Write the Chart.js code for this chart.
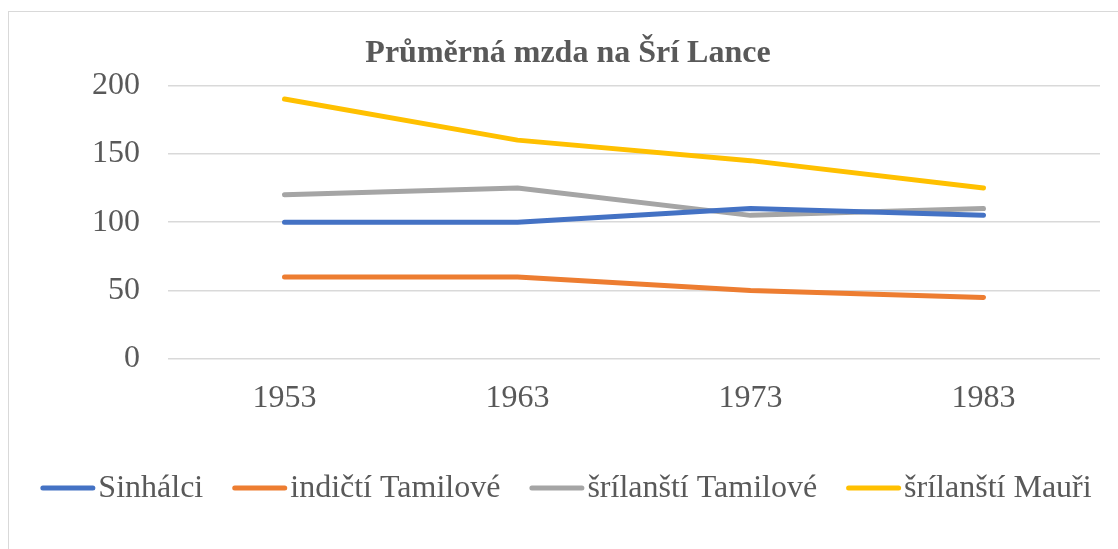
<!DOCTYPE html>
<html>
<head>
<meta charset="utf-8">
<script src="https://cdn.jsdelivr.net/npm/chart.js@4.4.1/dist/chart.umd.min.js"></script>
<style>
  html, body { margin: 0; padding: 0; background: #fff; overflow: hidden; }
  #frame { position: absolute; left: 8px; top: 11px; width: 1200px; height: 600px; border: 1px solid #d9d9d9; }
  #wrap { position: absolute; left: 0; top: 0; width: 1118px; height: 549px; }
</style>
</head>
<body>
<div id="frame"></div>
<div id="wrap"><canvas id="chart"></canvas></div>
<script>
var years = ['1953', '1963', '1973', '1983'];
var sinhalci = [100, 100, 110, 105];
var indictiTamilove = [60, 60, 50, 45];
var srilanstiTamilove = [120, 125, 105, 110];
var srilanstiMauri = [190, 160, 145, 125];
var yTicks = [0, 50, 100, 150, 200];

var seriesNames = ['Sinhálci', 'indičtí Tamilové', 'šrílanští Tamilové', 'šrílanští Mauři'];
var seriesColors = ['#4472C4', '#ED7D31', '#A5A5A5', '#FFC000'];
var seriesData = [sinhalci, indictiTamilove, srilanstiTamilove, srilanstiMauri];

var font = "'Liberation Serif', 'Times New Roman', serif";
var grey = '#595959';

// excel-like legend: long line, text right next to it
var bottomLegend = {
  id: 'bottomLegend',
  afterDraw: function(chart) {
    var c = chart.ctx;
    var lineLen = 55, gap = 3, itemGap = 29, cy = 488;
    c.save();
    c.font = '32px ' + font;
    c.textBaseline = 'middle';
    var items = chart.data.datasets.map(function(ds) {
      return { ds: ds, w: c.measureText(ds.label).width };
    });
    var total = 0;
    items.forEach(function(it, i) { total += lineLen + gap + it.w + (i ? itemGap : 0); });
    var x = 566 - total / 2;
    items.forEach(function(it) {
      c.strokeStyle = it.ds.borderColor;
      c.lineWidth = 5;
      c.lineCap = 'round';
      c.beginPath();
      c.moveTo(x + 2.5, cy);
      c.lineTo(x + lineLen - 2.5, cy);
      c.stroke();
      c.fillStyle = grey;
      c.fillText(it.ds.label, x + lineLen + gap, cy + 1);
      x += lineLen + gap + it.w + itemGap;
    });
    c.restore();
  }
};

var ctx = document.getElementById('chart').getContext('2d');
var myChart = new Chart(ctx, {
  type: 'line',
  data: {
    labels: years,
    datasets: seriesData.map(function(d, i) {
      return {
        label: seriesNames[i],
        data: d,
        borderColor: seriesColors[i],
        backgroundColor: seriesColors[i],
        borderWidth: 5,
        borderCapStyle: 'round',
        borderJoinStyle: 'round',
        pointRadius: 0,
        tension: 0
      };
    })
  },
  options: {
    responsive: true,
    maintainAspectRatio: false,
    animation: false,
    layout: { padding: { left: 36, right: 18, top: 0, bottom: 110 } },
    plugins: {
      title: {
        display: true,
        text: 'Průměrná mzda na Šrí Lance',
        color: grey,
        font: { family: font, size: 32, weight: 'bold' },
        padding: { top: 35, bottom: 12 }
      },
      legend: { display: false },
      tooltip: { enabled: false }
    },
    scales: {
      x: {
        offset: true,
        grid: { display: false, drawTicks: false },
        border: { display: false },
        ticks: { color: grey, font: { family: font, size: 32 }, padding: 20 },
        afterFit: function(scale) { scale.height = 80; }
      },
      y: {
        min: 0,
        max: 200,
        afterBuildTicks: function(scale) {
          scale.ticks = yTicks.map(function(v) { return { value: v }; });
        },
        grid: { color: '#d9d9d9', lineWidth: 1.5, drawTicks: false },
        border: { display: false },
        ticks: { color: grey, font: { family: font, size: 32 }, padding: 28 },
        afterFit: function(scale) { scale.width = 132; }
      }
    }
  },
  plugins: [bottomLegend]
});
</script>
</body>
</html>
